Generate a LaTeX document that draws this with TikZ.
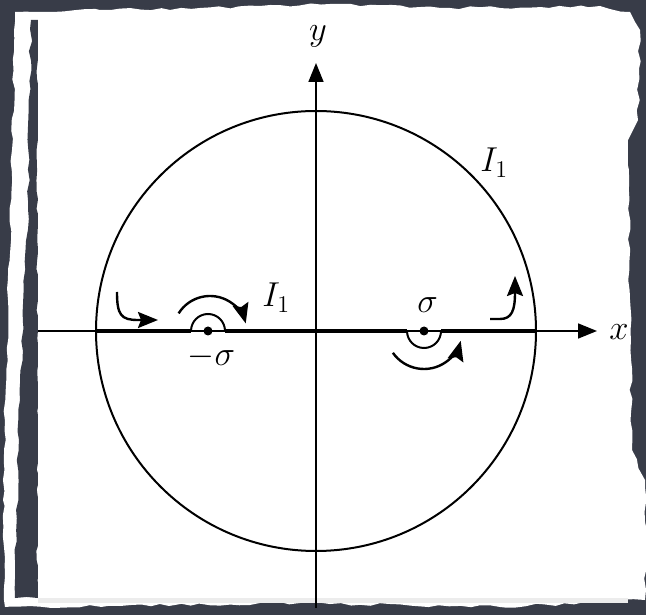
\documentclass[tikz,border=0pt]{standalone}
\usetikzlibrary{arrows.meta,decorations.pathmorphing}
\definecolor{bgdark}{RGB}{56,60,72}
\definecolor{fringe}{RGB}{236,236,236}
\begin{document}
\begin{tikzpicture}[x=0.5pt,y=0.5pt,
  font=\fontsize{17.5}{20}\selectfont,
  axis/.style={line width=0.8pt,-{Triangle[length=9.5pt,width=7.5pt]}},
  thickseg/.style={line width=2pt},
  thinarc/.style={line width=1pt},
  turn/.style={line width=1.2pt,-{Stealth[length=10pt,width=8pt,inset=1.5pt]}},
  dot/.style={circle,fill=black,inner sep=0pt,minimum size=4.5pt},
  lbl/.style={inner sep=0pt,anchor=base},
  torn/.style={decorate,decoration={random steps,segment length=5pt,amplitude=0.8pt}},
]
\pgfmathsetseed{11}
\useasboundingbox (0,0) rectangle (646,615);
% background and paper
\fill[bgdark] (0,0) rectangle (646,615);
\fill[white,torn] (15,603) -- (100,605) -- (200,607) -- (330,611) -- (450,607) -- (600,609)
  -- (630,603) -- (640,585) -- (638,495) -- (628,475) -- (630,315) -- (632,165)
  -- (645,135) -- (645,15) -- (500,8) -- (300,12) -- (120,9) -- (5,8)
  -- (3,115) -- (8,315) -- (12,465) -- cycle;
\fill[bgdark,torn] (31,595) -- (38,595) -- (38,17) -- (15,17) -- (15,55) -- (20,215) -- (28,415) -- cycle;
\fill[fringe] (38,12) rectangle (628,17);
\fill[white] (38,17) rectangle (628,597);
% axes and circle
\coordinate (O) at (316,284);
\coordinate (xl) at (38,284);
\coordinate (xr) at (597,284);
\coordinate (yb) at (316,7);
\coordinate (yt) at (316,552);
\draw[axis] (xl) -- (xr);
\draw[axis] (yb) -- (yt);
\draw[line width=1pt] (O) circle[radius=220];
% thick segments and indentations
\coordinate (cl) at (96,284);
\coordinate (cr) at (536,284);
\node[dot] (ms) at (208,284) {};
\node[dot] (s) at (424,284) {};
\coordinate (msl) at (191,284);
\coordinate (msr) at (225,284);
\coordinate (sl) at (407,284);
\coordinate (sr) at (441,284);
\draw[thickseg] (cl) -- (msl);
\draw[thickseg] (msr) -- (sl);
\draw[thickseg] (sr) -- (cr);
\draw[thinarc] (msl) arc[start angle=180,end angle=0,radius=17];
\draw[thinarc] (sl) arc[start angle=180,end angle=360,radius=17];
% turning arrows
\coordinate (h1a) at (117,323);
\coordinate (h1b) at (158,295);
\draw[turn] (h1a) .. controls (117,300) and (121,295) .. (138,295) -- (h1b);
\coordinate (a1c) at (210,282);
\draw[turn] (a1c) ++(148:37) arc[start angle=148,end angle=15,radius=37];
\coordinate (a2c) at (424,284);
\draw[turn] (a2c) ++(215:38) arc[start angle=215,end angle=345,radius=38];
\coordinate (h2a) at (490,296);
\coordinate (h2b) at (515,339);
\draw[turn] (h2a) -- (500,296) .. controls (512,296) and (515,305) .. (h2b);
% labels
\node[lbl] (ly) at (318,574) {$y$};
\node[lbl] (lx) at (619,275) {$x$};
\node[lbl] (lms) at (211.5,249) {$-\sigma$};
\node[lbl] (ls) at (427.5,302) {$\sigma$};
\node[lbl,anchor=base west] (li1) at (262,308) {$I_1$};
\node[lbl,anchor=base west] (li2) at (480,443) {$I_1$};
\end{tikzpicture}
\end{document}
